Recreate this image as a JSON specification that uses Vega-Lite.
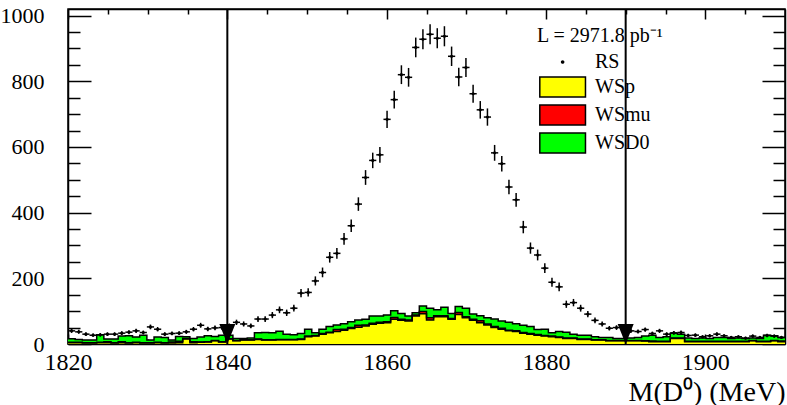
{
  "$schema": "https://vega.github.io/schema/vega-lite/v6.json",
  "width": 717,
  "height": 335,
  "autosize": "none",
  "padding": {"left": 68, "top": 9, "right": 2, "bottom": 61},
  "background": "white",
  "config": {
    "view": {"stroke": "black", "strokeWidth": 1.5},
    "axis": {"grid": false, "domain": false, "tickColor": "black", "tickWidth": 1.5, "labelFont": "Liberation Serif", "labelColor": "black", "titleFont": "Liberation Serif", "titleColor": "black", "titleFontWeight": "normal", "labelOverlap": false, "labelFlush": false, "labelBound": false, "zindex": 1}
  },
  "datasets": {
    "hist": [
      {"lo":1820,"WSp":4,"WSmu":1,"WSD0":11},{"lo":1820.9,"WSp":4,"WSmu":1,"WSD0":9},{"lo":1821.8,"WSp":3,"WSmu":1,"WSD0":8},{"lo":1822.7,"WSp":3,"WSmu":1,"WSD0":8},{"lo":1823.6,"WSp":4,"WSmu":1,"WSD0":23},
      {"lo":1824.5,"WSp":4,"WSmu":3,"WSD0":8},{"lo":1825.4,"WSp":3,"WSmu":1,"WSD0":11},{"lo":1826.3,"WSp":4,"WSmu":3,"WSD0":17},{"lo":1827.2,"WSp":3,"WSmu":1,"WSD0":21},{"lo":1828.1,"WSp":4,"WSmu":1,"WSD0":16},
      {"lo":1829,"WSp":3,"WSmu":1,"WSD0":23},{"lo":1829.9,"WSp":3,"WSmu":1,"WSD0":8},{"lo":1830.8,"WSp":4,"WSmu":1,"WSD0":16},{"lo":1831.7,"WSp":3,"WSmu":1,"WSD0":16},{"lo":1832.6,"WSp":3,"WSmu":3,"WSD0":6},
      {"lo":1833.5,"WSp":4,"WSmu":4,"WSD0":15},{"lo":1834.4,"WSp":15,"WSmu":2,"WSD0":5},{"lo":1835.3,"WSp":4,"WSmu":3,"WSD0":10},{"lo":1836.2,"WSp":5,"WSmu":1,"WSD0":15},{"lo":1837.1,"WSp":6,"WSmu":1,"WSD0":18},
      {"lo":1838,"WSp":10,"WSmu":1,"WSD0":12},{"lo":1838.9,"WSp":6,"WSmu":1,"WSD0":20},{"lo":1839.8,"WSp":15,"WSmu":1,"WSD0":11},{"lo":1840.7,"WSp":10,"WSmu":1,"WSD0":6},{"lo":1841.6,"WSp":12,"WSmu":1,"WSD0":4},
      {"lo":1842.5,"WSp":12,"WSmu":1,"WSD0":5},{"lo":1843.4,"WSp":14,"WSmu":1,"WSD0":19},{"lo":1844.3,"WSp":12,"WSmu":1,"WSD0":22},{"lo":1845.2,"WSp":12,"WSmu":1,"WSD0":21},{"lo":1846.1,"WSp":13,"WSmu":1,"WSD0":25},
      {"lo":1847,"WSp":13,"WSmu":1,"WSD0":16},{"lo":1847.9,"WSp":13,"WSmu":1,"WSD0":14},{"lo":1848.8,"WSp":14,"WSmu":1,"WSD0":17},{"lo":1849.7,"WSp":22,"WSmu":2,"WSD0":21},{"lo":1850.6,"WSp":24,"WSmu":2,"WSD0":8},
      {"lo":1851.5,"WSp":30,"WSmu":2,"WSD0":13},{"lo":1852.4,"WSp":34,"WSmu":2,"WSD0":17},{"lo":1853.3,"WSp":38,"WSmu":6,"WSD0":14},{"lo":1854.2,"WSp":42,"WSmu":3,"WSD0":17},{"lo":1855.1,"WSp":47,"WSmu":3,"WSD0":18},
      {"lo":1856,"WSp":51,"WSmu":6,"WSD0":16},{"lo":1856.9,"WSp":55,"WSmu":3,"WSD0":17},{"lo":1857.8,"WSp":60,"WSmu":3,"WSD0":22},{"lo":1858.7,"WSp":63,"WSmu":3,"WSD0":19},{"lo":1859.6,"WSp":65,"WSmu":3,"WSD0":20},
      {"lo":1860.5,"WSp":75,"WSmu":6,"WSD0":20},{"lo":1861.4,"WSp":72,"WSmu":3,"WSD0":18},{"lo":1862.3,"WSp":70,"WSmu":3,"WSD0":12},{"lo":1863.2,"WSp":85,"WSmu":3,"WSD0":7},{"lo":1864.1,"WSp":92,"WSmu":7,"WSD0":17},
      {"lo":1865,"WSp":73,"WSmu":7,"WSD0":29},{"lo":1865.9,"WSp":83,"WSmu":3,"WSD0":18},{"lo":1866.8,"WSp":83,"WSmu":3,"WSD0":26},{"lo":1867.7,"WSp":75,"WSmu":3,"WSD0":15},{"lo":1868.6,"WSp":90,"WSmu":6,"WSD0":18},
      {"lo":1869.5,"WSp":80,"WSmu":3,"WSD0":26},{"lo":1870.4,"WSp":72,"WSmu":3,"WSD0":16},{"lo":1871.3,"WSp":65,"WSmu":6,"WSD0":15},{"lo":1872.2,"WSp":58,"WSmu":3,"WSD0":19},{"lo":1873.1,"WSp":50,"WSmu":3,"WSD0":23},
      {"lo":1874,"WSp":45,"WSmu":3,"WSD0":22},{"lo":1874.9,"WSp":40,"WSmu":2,"WSD0":24},{"lo":1875.8,"WSp":38,"WSmu":2,"WSD0":22},{"lo":1876.7,"WSp":33,"WSmu":2,"WSD0":22},{"lo":1877.6,"WSp":30,"WSmu":2,"WSD0":21},
      {"lo":1878.5,"WSp":27,"WSmu":2,"WSD0":15},{"lo":1879.4,"WSp":24,"WSmu":2,"WSD0":19},{"lo":1880.3,"WSp":22,"WSmu":2,"WSD0":10},{"lo":1881.2,"WSp":20,"WSmu":1,"WSD0":17},{"lo":1882.1,"WSp":17,"WSmu":1,"WSD0":18},
      {"lo":1883,"WSp":17,"WSmu":1,"WSD0":12},{"lo":1883.9,"WSp":14,"WSmu":1,"WSD0":12},{"lo":1884.8,"WSp":14,"WSmu":1,"WSD0":12},{"lo":1885.7,"WSp":12,"WSmu":1,"WSD0":9},{"lo":1886.6,"WSp":12,"WSmu":1,"WSD0":7},
      {"lo":1887.5,"WSp":10,"WSmu":1,"WSD0":9},{"lo":1888.4,"WSp":10,"WSmu":1,"WSD0":6},{"lo":1889.3,"WSp":10,"WSmu":1,"WSD0":6},{"lo":1890.2,"WSp":10,"WSmu":1,"WSD0":7},{"lo":1891.1,"WSp":10,"WSmu":1,"WSD0":9},
      {"lo":1892,"WSp":9,"WSmu":1,"WSD0":14},{"lo":1892.9,"WSp":7,"WSmu":2,"WSD0":18},{"lo":1893.8,"WSp":7,"WSmu":1,"WSD0":12},{"lo":1894.7,"WSp":7,"WSmu":1,"WSD0":14},{"lo":1895.6,"WSp":17,"WSmu":1,"WSD0":15},
      {"lo":1896.5,"WSp":17,"WSmu":1,"WSD0":12},{"lo":1897.4,"WSp":7,"WSmu":1,"WSD0":10},{"lo":1898.3,"WSp":7,"WSmu":1,"WSD0":9},{"lo":1899.2,"WSp":7,"WSmu":1,"WSD0":10},{"lo":1900.1,"WSp":7,"WSmu":1,"WSD0":9},
      {"lo":1901,"WSp":7,"WSmu":1,"WSD0":12},{"lo":1901.9,"WSp":7,"WSmu":1,"WSD0":12},{"lo":1902.8,"WSp":7,"WSmu":1,"WSD0":9},{"lo":1903.7,"WSp":7,"WSmu":1,"WSD0":10},{"lo":1904.6,"WSp":7,"WSmu":1,"WSD0":9},
      {"lo":1905.5,"WSp":10,"WSmu":1,"WSD0":7},{"lo":1906.4,"WSp":7,"WSmu":1,"WSD0":9},{"lo":1907.3,"WSp":7,"WSmu":1,"WSD0":19},{"lo":1908.2,"WSp":10,"WSmu":1,"WSD0":14},{"lo":1909.1,"WSp":7,"WSmu":2,"WSD0":11},
      {"lo":1910,"WSp":7,"WSmu":2,"WSD0":11}
    ],
    "rs": [
      {"m":1820.45,"n":40,"e":6.3},{"m":1821.35,"n":37,"e":6.1},{"m":1822.25,"n":30,"e":5.5},{"m":1823.15,"n":27,"e":5.2},{"m":1824.05,"n":28,"e":5.3},
      {"m":1824.95,"n":30,"e":5.5},{"m":1825.85,"n":30,"e":5.5},{"m":1826.75,"n":33,"e":5.7},{"m":1827.65,"n":36,"e":6},{"m":1828.55,"n":40,"e":6.3},
      {"m":1829.45,"n":35,"e":5.9},{"m":1830.35,"n":52,"e":7.2},{"m":1831.25,"n":45,"e":6.7},{"m":1832.15,"n":30,"e":5.5},{"m":1833.05,"n":32,"e":5.7},
      {"m":1833.95,"n":33,"e":5.7},{"m":1834.85,"n":37,"e":6.1},{"m":1835.75,"n":45,"e":6.7},{"m":1836.65,"n":57,"e":7.5},{"m":1837.55,"n":46,"e":6.8},
      {"m":1838.45,"n":49,"e":7},{"m":1839.35,"n":50,"e":7.1},{"m":1840.25,"n":55,"e":7.4},{"m":1841.15,"n":66,"e":8.1},{"m":1842.05,"n":61,"e":7.8},
      {"m":1842.95,"n":55,"e":7.4},{"m":1843.85,"n":76,"e":8.7},{"m":1844.75,"n":76,"e":8.7},{"m":1845.65,"n":88,"e":9.4},{"m":1846.55,"n":104,"e":10.2},
      {"m":1847.45,"n":95,"e":9.7},{"m":1848.35,"n":109,"e":10.4},{"m":1849.25,"n":155,"e":12.4},{"m":1850.15,"n":157,"e":12.5},{"m":1851.05,"n":192,"e":13.9},
      {"m":1851.95,"n":218,"e":14.8},{"m":1852.85,"n":264,"e":16.2},{"m":1853.75,"n":276,"e":16.6},{"m":1854.65,"n":320,"e":17.9},{"m":1855.55,"n":360,"e":19},
      {"m":1856.45,"n":426,"e":20.6},{"m":1857.35,"n":507,"e":22.5},{"m":1858.25,"n":559,"e":23.6},{"m":1859.15,"n":576,"e":24},{"m":1860.05,"n":684,"e":26.2},
      {"m":1860.95,"n":744,"e":27.3},{"m":1861.85,"n":820,"e":28.6},{"m":1862.75,"n":812,"e":28.5},{"m":1863.65,"n":903,"e":30},{"m":1864.55,"n":928,"e":30.5},
      {"m":1865.45,"n":943,"e":30.7},{"m":1866.35,"n":931,"e":30.5},{"m":1867.25,"n":937,"e":30.6},{"m":1868.15,"n":876,"e":29.6},{"m":1869.05,"n":813,"e":28.5},
      {"m":1869.95,"n":842,"e":29},{"m":1870.85,"n":762,"e":27.6},{"m":1871.75,"n":713,"e":26.7},{"m":1872.65,"n":691,"e":26.3},{"m":1873.55,"n":582,"e":24.1},
      {"m":1874.45,"n":549,"e":23.4},{"m":1875.35,"n":478,"e":21.9},{"m":1876.25,"n":439,"e":21},{"m":1877.15,"n":356,"e":18.9},{"m":1878.05,"n":292,"e":17.1},
      {"m":1878.95,"n":271,"e":16.5},{"m":1879.85,"n":231,"e":15.2},{"m":1880.75,"n":188,"e":13.7},{"m":1881.65,"n":174,"e":13.2},{"m":1882.55,"n":121,"e":11},
      {"m":1883.45,"n":126,"e":11.2},{"m":1884.35,"n":109,"e":10.4},{"m":1885.25,"n":91,"e":9.5},{"m":1886.15,"n":72,"e":8.5},{"m":1887.05,"n":61,"e":7.8},
      {"m":1887.95,"n":48,"e":6.9},{"m":1888.85,"n":50,"e":7.1},{"m":1889.75,"n":45,"e":6.7},{"m":1890.65,"n":40,"e":6.3},{"m":1891.55,"n":38,"e":6.2},
      {"m":1892.45,"n":44,"e":6.6},{"m":1893.35,"n":32,"e":5.7},{"m":1894.25,"n":40,"e":6.3},{"m":1895.15,"n":30,"e":5.5},{"m":1896.05,"n":34,"e":5.8},
      {"m":1896.95,"n":35,"e":5.9},{"m":1897.85,"n":26,"e":5.1},{"m":1898.75,"n":27,"e":5.2},{"m":1899.65,"n":22,"e":4.7},{"m":1900.55,"n":25,"e":5},
      {"m":1901.45,"n":30,"e":5.5},{"m":1902.35,"n":25,"e":5},{"m":1903.25,"n":20,"e":4.5},{"m":1904.15,"n":22,"e":4.7},{"m":1905.05,"n":18,"e":4.2},
      {"m":1905.95,"n":24,"e":4.9},{"m":1906.85,"n":20,"e":4.5},{"m":1907.75,"n":26,"e":5.1},{"m":1908.65,"n":24,"e":4.9},{"m":1909.55,"n":20,"e":4.5}
    ],
    "arrows": [{"ax": 1840}, {"ax": 1890}]
  },
  "layer": [
    {
      "data": {"name": "hist"},
      "transform": [
        {"fold": ["WSp", "WSmu", "WSD0"], "as": ["s", "v"]},
        {"stack": "v", "groupby": ["lo"], "sort": [{"field": "s", "order": "descending"}], "as": ["v0", "v1"]}
      ],
      "mark": {"type": "area", "interpolate": "step-after", "opacity": 1},
      "encoding": {
        "x": {"field": "lo", "type": "quantitative", "scale": {"domain": [1820, 1910], "nice": false, "zero": false},
              "axis": {"orient": "bottom", "values": [1820, 1840, 1860, 1880, 1900], "tickSize": -10, "labelPadding": 16.5, "labelBaseline": "top", "labelFont": "Liberation Serif", "labelFontSize": 24, "format": "d",
                       "domain": true, "domainColor": "black", "domainWidth": 1.5,
                       "title": "M(D⁰) (MeV)", "titleFont": "Liberation Serif", "titleFontSize": 28, "titleX": 717, "titleY": 56, "titleAlign": "right", "titleAnchor": null, "titleBaseline": "alphabetic", "titleAngle": 0}},
        "y": {"field": "v1", "type": "quantitative", "scale": {"domain": [0, 1020], "nice": false},
              "axis": {"orient": "left", "values": [0, 200, 400, 600, 800, 1000], "format": "d", "tickSize": -23, "labelPadding": 47, "labelAlign": "right", "labelBaseline": "middle", "labelFont": "Liberation Serif", "labelFontSize": 22, "title": null,
                       "domain": true, "domainColor": "black", "domainWidth": 1.5}},
        "y2": {"field": "v0"},
        "color": {"field": "s", "type": "nominal",
                  "scale": {"domain": ["RS", "WSp", "WSmu", "WSD0"], "range": ["black", "#ffff00", "#ff0000", "#00ff00"]},
                  "legend": {"orient": "none", "legendX": 469, "legendY": 17, "padding": 0,
                             "title": "L = 2971.8 pb⁻¹", "titleFont": "Liberation Serif", "titleFontSize": 20, "titleFontWeight": "normal", "titleColor": "black", "titlePadding": 6, "titleLimit": 400,
                             "labelFont": "Liberation Serif", "labelFontSize": 20, "labelColor": "black", "labelOffset": 38,
                             "symbolType": "M -0.32 -0.44 L 1.71 -0.44 L 1.71 0.44 L -0.32 0.44 Z", "symbolSize": 2025, "symbolStrokeColor": "black", "symbolStrokeWidth": 1.5, "symbolOpacity": 1,
                             "rowPadding": 2,
                             "encode": {"symbols": {"update": {
                               "shape": {"signal": "datum.value === 'RS' ? 'M 0.615 0 A 0.08 0.08 0 1 0 0.775 0 A 0.08 0.08 0 1 0 0.615 0 Z' : 'M -0.32 -0.44 L 1.71 -0.44 L 1.71 0.44 L -0.32 0.44 Z'"},
                               "size": {"value": 2025},
                               "strokeWidth": {"signal": "datum.value === 'RS' ? 0 : 1.5"}}}}}}
      }
    },
    {
      "data": {"name": "hist"},
      "transform": [
        {"fold": ["WSp", "WSmu", "WSD0"], "as": ["s", "v"]},
        {"stack": "v", "groupby": ["lo"], "sort": [{"field": "s", "order": "descending"}], "as": ["v0", "v1"]}
      ],
      "mark": {"type": "line", "interpolate": "step-after", "color": "black", "strokeWidth": 1.5},
      "encoding": {
        "x": {"field": "lo", "type": "quantitative",
              "axis": {"orient": "bottom", "values": [1825, 1830, 1835, 1845, 1850, 1855, 1865, 1870, 1875, 1885, 1890, 1895, 1905], "tickSize": -5, "labels": false, "title": null}},
        "y": {"field": "v1", "type": "quantitative",
              "axis": {"orient": "left", "values": [50, 100, 150, 250, 300, 350, 450, 500, 550, 650, 700, 750, 850, 900, 950], "tickSize": -12, "labels": false, "title": null}},
        "detail": {"field": "s"}
      }
    },
    {
      "data": {"name": "rs"},
      "mark": {"type": "errorbar", "color": "black", "thickness": 1.5},
      "encoding": {
        "x": {"field": "m", "type": "quantitative", "axis": null},
        "y": {"field": "n", "type": "quantitative", "axis": null},
        "yError": {"field": "e"}
      }
    },
    {
      "data": {"name": "rs"},
      "mark": {"type": "tick", "orient": "horizontal", "size": 7.2, "thickness": 1.5, "color": "black", "opacity": 1},
      "encoding": {
        "x": {"field": "m", "type": "quantitative",
              "axis": {"orient": "top", "values": [1820, 1840, 1860, 1880, 1900], "tickSize": -10, "labels": false, "title": null, "domain": true, "domainColor": "black", "domainWidth": 1.5}},
        "y": {"field": "n", "type": "quantitative",
              "axis": {"orient": "right", "values": [0, 200, 400, 600, 800, 1000], "tickSize": -23, "labels": false, "title": null, "domain": true, "domainColor": "black", "domainWidth": 1.5}}
      }
    },
    {
      "data": {"name": "rs"},
      "mark": {"type": "point", "filled": true, "size": 10, "color": "black", "opacity": 1},
      "encoding": {
        "x": {"field": "m", "type": "quantitative",
              "axis": {"orient": "top", "values": [1825, 1830, 1835, 1845, 1850, 1855, 1865, 1870, 1875, 1885, 1890, 1895, 1905], "tickSize": -5, "labels": false, "title": null}},
        "y": {"field": "n", "type": "quantitative",
              "axis": {"orient": "right", "values": [50, 100, 150, 250, 300, 350, 450, 500, 550, 650, 700, 750, 850, 900, 950], "tickSize": -12, "labels": false, "title": null}}
      }
    },
    {
      "data": {"name": "arrows"},
      "mark": {"type": "rule", "color": "black", "strokeWidth": 2},
      "encoding": {
        "x": {"field": "ax", "type": "quantitative", "axis": null}
      }
    },
    {
      "data": {"name": "arrows"},
      "mark": {"type": "point", "shape": "M -0.8 -2 L 0.8 -2 L 0 0 Z", "size": 400, "filled": true, "color": "black", "opacity": 1},
      "encoding": {
        "x": {"field": "ax", "type": "quantitative", "axis": null},
        "y": {"datum": 0, "type": "quantitative", "axis": null}
      }
    }
  ],
  "resolve": {"axis": {"x": "independent", "y": "independent"}}
}
